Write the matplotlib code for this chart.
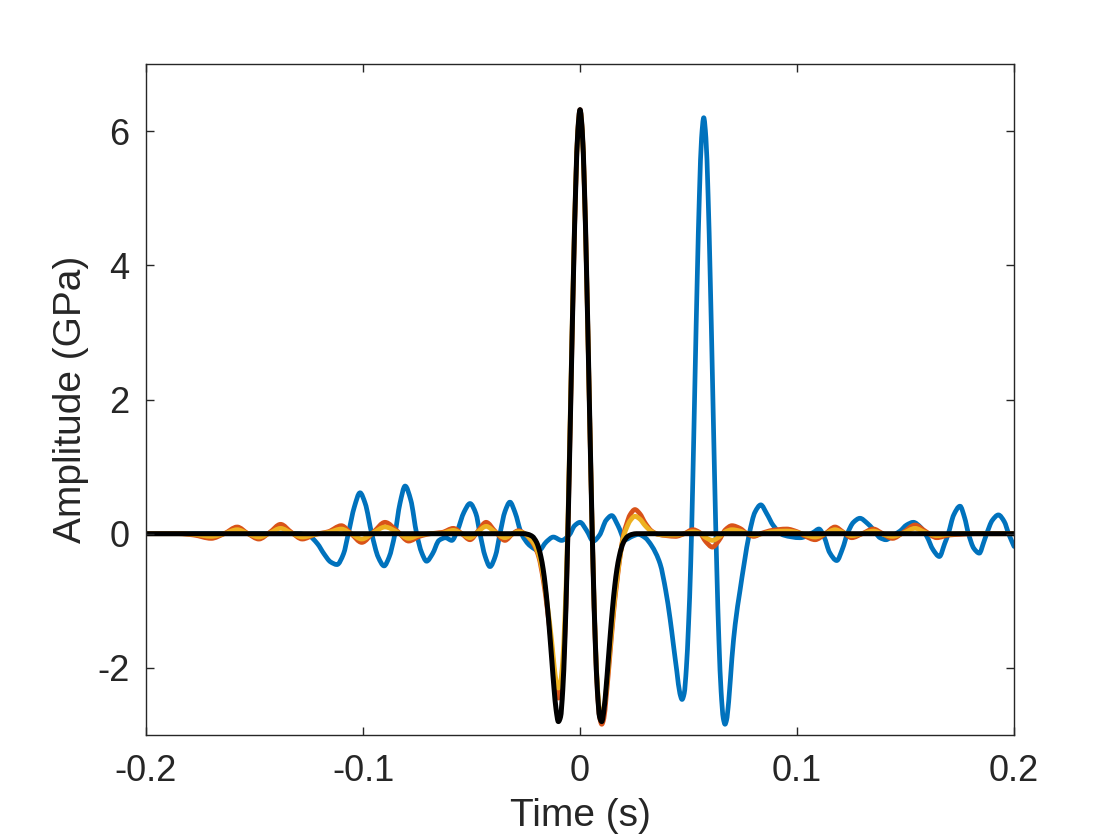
import matplotlib
matplotlib.use('Agg')
import matplotlib.pyplot as plt
from matplotlib.path import Path
from matplotlib.patches import PathPatch

plt.rcParams['font.family'] = ['Liberation Sans', 'DejaVu Sans']

# values (time in s, amplitude in GPa)
t_blue = [-0.200, -0.130, -0.125, -0.121, -0.118, -0.115, -0.112, -0.109, -0.1068, -0.104,
          -0.1014, -0.099, -0.096, -0.093, -0.0903, -0.088, -0.0853, -0.083, -0.0806, -0.078,
          -0.0753, -0.073, -0.0707, -0.068, -0.065, -0.062, -0.0591, -0.0565, -0.0535, -0.0507,
          -0.048, -0.0461, -0.0438, -0.0415, -0.039, -0.0369, -0.0346, -0.0323, -0.030, -0.027,
          -0.023, -0.019, -0.0155, -0.0123, -0.0085, -0.005, -0.0025, 0.0, 0.003, 0.0061,
          0.009, 0.012, 0.0146, 0.0175, 0.0207, 0.024, 0.0269, 0.030, 0.033, 0.0369,
          0.0395, 0.0415, 0.043, 0.0446, 0.046, 0.047, 0.048, 0.049, 0.050, 0.051,
          0.052, 0.053, 0.054, 0.055, 0.056, 0.057, 0.058, 0.059, 0.060, 0.061,
          0.062, 0.063, 0.064, 0.065, 0.066, 0.0668, 0.0675, 0.0685, 0.070, 0.0715,
          0.0737, 0.0756, 0.078, 0.0806, 0.0833, 0.086, 0.0891, 0.0937, 0.1014, 0.1075,
          0.1101, 0.1125, 0.115, 0.1183, 0.121, 0.1232, 0.126, 0.129, 0.1322, 0.1352,
          0.1382, 0.141, 0.144, 0.1475, 0.1505, 0.1536, 0.1568, 0.1598, 0.1627, 0.1656,
          0.168, 0.1697, 0.1722, 0.1751, 0.1772, 0.179, 0.1815, 0.184, 0.186, 0.1874,
          0.190, 0.1928, 0.1955, 0.1975, 0.200]
v_blue = [0.0, 0.0, -0.03, -0.15, -0.30, -0.42, -0.46, -0.30, 0.0, 0.40,
          0.61, 0.45, 0.0, -0.35, -0.48, -0.35, 0.0, 0.45, 0.71, 0.50,
          0.0, -0.28, -0.41, -0.30, -0.10, -0.06, -0.10, 0.05, 0.32, 0.45,
          0.30, 0.0, -0.33, -0.49, -0.33, 0.0, 0.33, 0.47, 0.32, 0.0,
          -0.18, -0.25, -0.12, -0.05, -0.10, -0.02, 0.12, 0.17, 0.05, -0.11,
          -0.02, 0.20, 0.27, 0.12, -0.09, -0.04, -0.01, -0.06, -0.18, -0.45,
          -0.85, -1.27, -1.65, -2.05, -2.38, -2.47, -2.38, -2.0, -1.35, -0.45,
          0.85, 2.35, 3.8, 5.05, 5.9, 6.2, 5.9, 5.05, 3.8, 2.35,
          0.85, -0.5, -1.6, -2.35, -2.75, -2.84, -2.78, -2.5, -1.85, -1.35,
          -0.85, -0.45, 0.0, 0.32, 0.43, 0.30, 0.12, -0.02, -0.06, 0.02,
          0.07, -0.05, -0.28, -0.40, -0.22, 0.0, 0.17, 0.23, 0.16, 0.06,
          -0.06, -0.09, -0.03, 0.04, 0.13, 0.17, 0.10, -0.04, -0.24, -0.34,
          -0.15, 0.0, 0.28, 0.41, 0.24, 0.0, -0.22, -0.29, -0.13, 0.0,
          0.20, 0.28, 0.18, 0.0, -0.19]

t_red = [-0.200, -0.185, -0.178, -0.170, -0.164, -0.158, -0.153, -0.148, -0.143, -0.138,
         -0.133, -0.128, -0.122, -0.116, -0.110, -0.1055, -0.1006, -0.095, -0.0899, -0.084,
         -0.079, -0.074, -0.069, -0.0635, -0.0584, -0.0545, -0.0507, -0.047, -0.0433, -0.039,
         -0.0346, -0.031, -0.0284, -0.0255, -0.023, -0.021, -0.019, -0.017, -0.015, -0.013,
         -0.012, -0.011, -0.010, -0.009, -0.008, -0.007, -0.006, -0.005, -0.004, -0.003,
         -0.002, -0.001, 0.000, 0.001, 0.002, 0.003, 0.004, 0.005, 0.006, 0.007,
         0.008, 0.009, 0.010, 0.011, 0.012, 0.013, 0.014, 0.015, 0.016, 0.017,
         0.018, 0.019, 0.020, 0.0215, 0.023, 0.0253, 0.0275, 0.030, 0.033, 0.036,
         0.040, 0.044, 0.048, 0.052, 0.055, 0.058, 0.061, 0.064, 0.067, 0.070,
         0.0737, 0.077, 0.080, 0.084, 0.0885, 0.0952, 0.100, 0.104, 0.1083, 0.113,
         0.1175, 0.121, 0.1252, 0.130, 0.1352, 0.139, 0.144, 0.149, 0.1544, 0.159,
         0.1644, 0.170, 0.175, 0.182, 0.200]
v_red = [0.0, 0.0, -0.02, -0.07, 0.0, 0.10, 0.0, -0.08, 0.02, 0.14,
         0.02, -0.08, -0.01, 0.03, 0.12, 0.0, -0.13, 0.03, 0.17, 0.03,
         -0.11, -0.04, 0.0, 0.02, 0.08, 0.0, -0.09, 0.04, 0.17, 0.03,
         -0.10, 0.0, 0.045, 0.0, -0.08, -0.18, -0.35, -0.68, -1.15, -1.72,
         -2.05, -2.32, -2.45, -2.38, -2.1, -1.5, -0.5, 0.9, 2.42, 3.91,
         5.17, 6.01, 6.32, 6.01, 5.17, 3.91, 2.42, 0.89, -0.49, -1.59,
         -2.34, -2.73, -2.84, -2.75, -2.45, -2.1, -1.72, -1.35, -1.0, -0.72,
         -0.45, -0.22, -0.02, 0.15, 0.28, 0.36, 0.30, 0.16, 0.04, -0.01,
         -0.03, -0.04, 0.0, 0.06, 0.02, -0.12, -0.20, -0.10, 0.06, 0.12,
         0.08, 0.0, -0.04, 0.01, 0.05, 0.07, 0.03, -0.04, -0.09, 0.0,
         0.10, 0.03, -0.06, 0.0, 0.07, 0.01, -0.07, 0.02, 0.13, 0.04,
         -0.06, -0.02, -0.01, 0.0, 0.0]

t_yellow = t_red
v_yellow = [0.0, 0.0, -0.01, -0.04, 0.0, 0.06, 0.0, -0.05, 0.01, 0.08,
            0.01, -0.05, -0.01, 0.02, 0.07, 0.0, -0.08, 0.02, 0.10, 0.02,
            -0.07, -0.02, 0.0, 0.01, 0.05, 0.0, -0.06, 0.03, 0.11, 0.02,
            -0.06, 0.0, 0.03, 0.0, -0.07, -0.16, -0.32, -0.62, -1.08, -1.62,
            -1.95, -2.2, -2.3, -2.22, -1.9, -1.25, -0.3, 1.05, 2.55, 4.0,
            5.2, 6.0, 6.3, 6.0, 5.15, 3.88, 2.4, 0.88, -0.48, -1.55,
            -2.27, -2.63, -2.7, -2.6, -2.35, -2.0, -1.65, -1.28, -0.95, -0.68,
            -0.43, -0.22, -0.05, 0.09, 0.19, 0.26, 0.22, 0.12, 0.03, -0.01,
            -0.02, -0.02, 0.0, 0.03, 0.01, -0.06, -0.10, -0.05, 0.03, 0.06,
            0.04, 0.0, -0.02, 0.0, 0.03, 0.04, 0.02, -0.02, -0.05, 0.0,
            0.06, 0.02, -0.03, 0.0, 0.04, 0.0, -0.04, 0.01, 0.08, 0.02,
            -0.03, -0.01, 0.0, 0.0, 0.0]

t_black = [-0.200, -0.026, -0.024, -0.022, -0.020, -0.019, -0.018, -0.017, -0.016, -0.015,
           -0.014, -0.013, -0.012, -0.011, -0.010, -0.009, -0.008, -0.007, -0.006, -0.005,
           -0.004, -0.003, -0.002, -0.001, 0.000, 0.001, 0.002, 0.003, 0.004, 0.005,
           0.006, 0.007, 0.008, 0.009, 0.010, 0.011, 0.012, 0.013, 0.014, 0.015,
           0.016, 0.017, 0.018, 0.019, 0.020, 0.022, 0.024, 0.026, 0.200]
v_black = [0.0, 0.0, -0.01, -0.04, -0.13, -0.22, -0.35, -0.53, -0.78, -1.10,
           -1.48, -1.89, -2.30, -2.63, -2.80, -2.73, -2.34, -1.59, -0.49, 0.89,
           2.42, 3.91, 5.17, 6.01, 6.32, 6.01, 5.17, 3.91, 2.42, 0.89,
           -0.49, -1.59, -2.34, -2.73, -2.80, -2.63, -2.30, -1.89, -1.48, -1.10,
           -0.78, -0.53, -0.35, -0.22, -0.13, -0.04, -0.01, 0.0, 0.0]

xticks = [-0.2, -0.1, 0, 0.1, 0.2]
xticklabels = ['-0.2', '-0.1', '0', '0.1', '0.2']
yticks = [-2, 0, 2, 4, 6]
yticklabels = ['-2', '0', '2', '4', '6']

txt = '#262626'


def smooth_path(t, v):
    # monotone cubic (pchip-like) through the read points, drawn as bezier curves
    n = len(t)
    h = [t[i + 1] - t[i] for i in range(n - 1)]
    d = [(v[i + 1] - v[i]) / h[i] for i in range(n - 1)]
    m = [0.0] * n
    m[0] = d[0]
    m[-1] = d[-1]
    for k in range(1, n - 1):
        if d[k - 1] * d[k] <= 0:
            m[k] = 0.0
        else:
            w1 = 2 * h[k] + h[k - 1]
            w2 = h[k] + 2 * h[k - 1]
            m[k] = (w1 + w2) / (w1 / d[k - 1] + w2 / d[k])
    verts = [(t[0], v[0])]
    codes = [Path.MOVETO]
    for k in range(n - 1):
        verts += [(t[k] + h[k] / 3, v[k] + m[k] * h[k] / 3),
                  (t[k + 1] - h[k] / 3, v[k + 1] - m[k + 1] * h[k] / 3),
                  (t[k + 1], v[k + 1])]
        codes += [Path.CURVE4] * 3
    return Path(verts, codes)


fig = plt.figure(figsize=(5.6, 4.2), dpi=200)
ax = fig.add_axes([0.1304, 0.125, 0.775, 0.7988])

series = [(t_blue, v_blue, '#0072BD', 1.7),
          (t_red, v_red, '#D95319', 1.7),
          (t_yellow, v_yellow, '#EDB120', 1.7),
          (t_black, v_black, 'black', 1.8)]
for t, v, c, w in series:
    ax.add_patch(PathPatch(smooth_path(t, v), fill=False, edgecolor=c, lw=w,
                           joinstyle='round', capstyle='round'))

ax.set_xlim(-0.2, 0.2)
ax.set_ylim(-3, 7)
ax.set_xticks(xticks)
ax.set_xticklabels(xticklabels)
ax.set_yticks(yticks)
ax.set_yticklabels(yticklabels)

ax.tick_params(direction='in', top=True, right=True, length=3, width=0.5,
               color=txt, labelcolor=txt, labelsize=13)
ax.tick_params(axis='x', pad=7)
ax.tick_params(axis='y', pad=6)
for s in ax.spines.values():
    s.set_linewidth(0.5)
    s.set_color(txt)

ax.set_xlabel('Time (s)', fontsize=14, color=txt, labelpad=3)
ax.set_ylabel('Amplitude (GPa)', fontsize=14, color=txt, labelpad=3)

fig.savefig('out.png', dpi=200, facecolor='white')
